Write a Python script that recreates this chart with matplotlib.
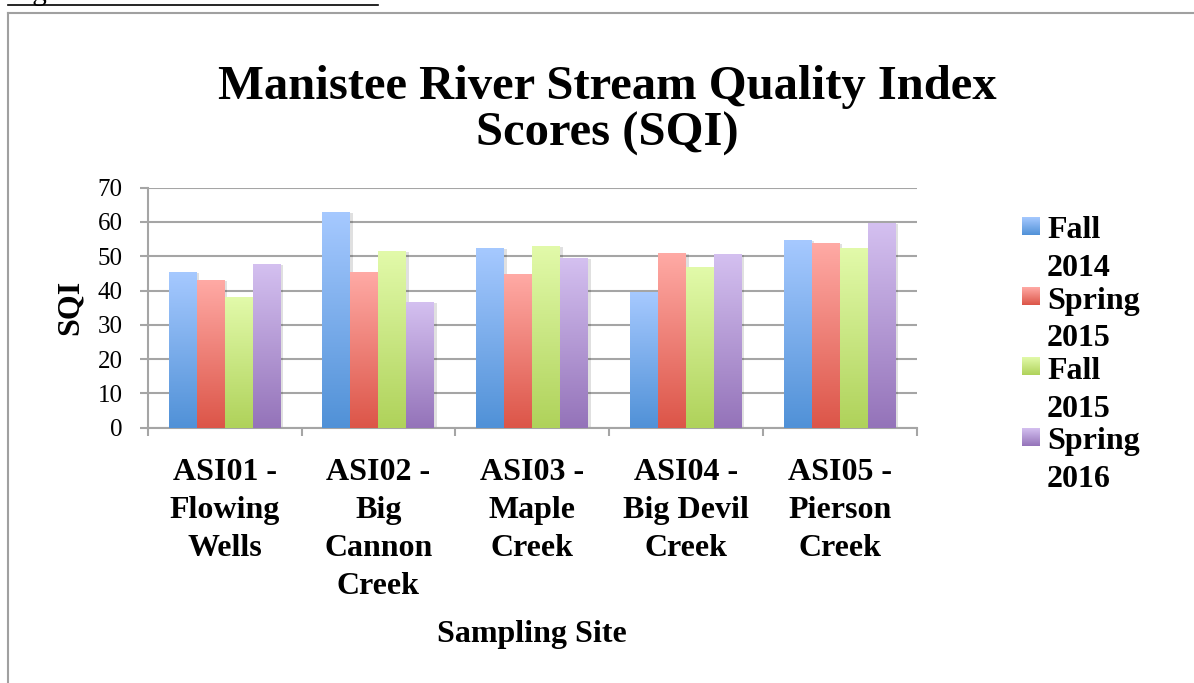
import numpy as np
import matplotlib
matplotlib.use('Agg')
import matplotlib.pyplot as plt
from matplotlib.colors import LinearSegmentedColormap
from matplotlib.lines import Line2D
from matplotlib import transforms

sites = ["ASI01 -\nFlowing\nWells", "ASI02 -\nBig\nCannon\nCreek", "ASI03 -\nMaple\nCreek",
         "ASI04 -\nBig Devil\nCreek", "ASI05 -\nPierson\nCreek"]
seasons = ["Fall\n2014", "Spring\n2015", "Fall\n2015", "Spring\n2016"]
fall_2014 = [45.3, 62.8, 52.3, 39.6, 54.7]
spring_2015 = [43.1, 45.4, 44.8, 51.0, 53.9]
fall_2015 = [38.1, 51.5, 52.9, 46.9, 52.4]
spring_2016 = [47.7, 36.7, 49.5, 50.6, 59.7]
series = [fall_2014, spring_2015, fall_2015, spring_2016]

# (bottom, top) colours of the gradient fill
grad_colors = [("#5091d7", "#a6c9ff"), ("#dc5548", "#ffaaa5"),
               ("#afd25a", "#e2faaa"), ("#9473b9", "#d4c0f0")]

W, H = 1194, 683
fig = plt.figure(figsize=(W / 100, H / 100), dpi=100)


def fx(px):
    return px / W


def fy(py):
    return 1 - py / H


gray = "#a5a5a5"
serif = "Liberation Serif"

ax = fig.add_axes([fx(147.7), fy(427.7), fx(916.7) - fx(147.7), fy(187.7) - fy(427.7)])

grad = np.linspace(0, 1, 256).reshape(-1, 1)
cmaps = [LinearSegmentedColormap.from_list("g%d" % i, c) for i, c in enumerate(grad_colors)]

bar_w = 0.182
x = np.arange(len(sites))
shadow_tr = transforms.offset_copy(ax.transData, fig=fig, x=2.5, y=-1, units='dots')
for k, vals in enumerate(series):
    for i, v in enumerate(vals):
        x0 = x[i] + (k - 2) * bar_w
        ax.add_patch(plt.Rectangle((x0, 0), bar_w, v, transform=shadow_tr,
                                   color="black", alpha=0.12, lw=0, zorder=2))
        ax.imshow(grad, cmap=cmaps[k], origin='lower', aspect='auto',
                  extent=[x0, x0 + bar_w, 0, v], interpolation='bilinear', zorder=3)

ax.set_xlim(-0.5, len(sites) - 0.5)
ax.set_ylim(0, 70)
ax.set_yticks(range(0, 71, 10))
ax.yaxis.grid(True, color=gray, lw=1.5, zorder=1)
ax.set_axisbelow(True)

ax.set_xticks(np.arange(-0.5, len(sites), 1.0))
ax.set_xticklabels([])
ax.set_xticks(x, minor=True)
ax.set_xticklabels(sites, minor=True, fontfamily=serif, fontweight='bold',
                   fontsize=23, linespacing=1.4)
ax.tick_params(axis='x', which='minor', length=0, pad=22)
ax.tick_params(axis='x', which='major', length=6, width=1.5, color=gray)
ax.tick_params(axis='y', length=6, width=1.5, color=gray, labelsize=18, pad=12)
for lab in ax.get_yticklabels():
    lab.set_fontfamily(serif)

for s in ["top", "right"]:
    ax.spines[s].set_visible(False)
for s in ["left", "bottom"]:
    ax.spines[s].set_color(gray)
    ax.spines[s].set_linewidth(1.5)

# va='baseline' on multi-line text anchors the last line
fig.text(fx(607.5), fy(146), "Manistee River Stream Quality Index\nScores (SQI)",
         ha='center', va='baseline', fontfamily=serif, fontweight='bold', fontsize=35,
         linespacing=1.1)
fig.text(fx(70), fy(307.5), "SQI", rotation=90, ha='center', va='center',
         fontfamily=serif, fontweight='bold', fontsize=23)
fig.text(fx(532), fy(641.7), "Sampling Site", ha='center', va='baseline',
         fontfamily=serif, fontweight='bold', fontsize=23)

# legend
for k, lab in enumerate(seasons):
    top = 216.7 + k * 70.4
    lax = fig.add_axes([fx(1021.7), fy(top + 18), fx(18), 18 / H])
    lax.imshow(grad, cmap=cmaps[k], origin='lower', aspect='auto')
    lax.axis('off')
    fig.text(fx(1047), fy(276 + k * 70.4), lab, ha='left', va='baseline',
             fontfamily=serif, fontweight='bold', fontsize=23, linespacing=1.4)

# document frame and cut-off heading above the chart
fig.add_artist(Line2D([fx(7.5), 1], [fy(12.5), fy(12.5)], color="#a0a0a0", lw=1.5))
fig.add_artist(Line2D([fx(7.5), fx(7.5)], [fy(12.5), 0], color="#a0a0a0", lw=1.5))
fig.text(fx(8), fy(0), "Significant Measurable Results:", ha='left', va='baseline',
         fontfamily=serif, fontsize=21)
fig.add_artist(Line2D([fx(8), fx(378)], [fy(4.5), fy(4.5)], color="black", lw=1.2))

fig.savefig("out.png", dpi=100)
